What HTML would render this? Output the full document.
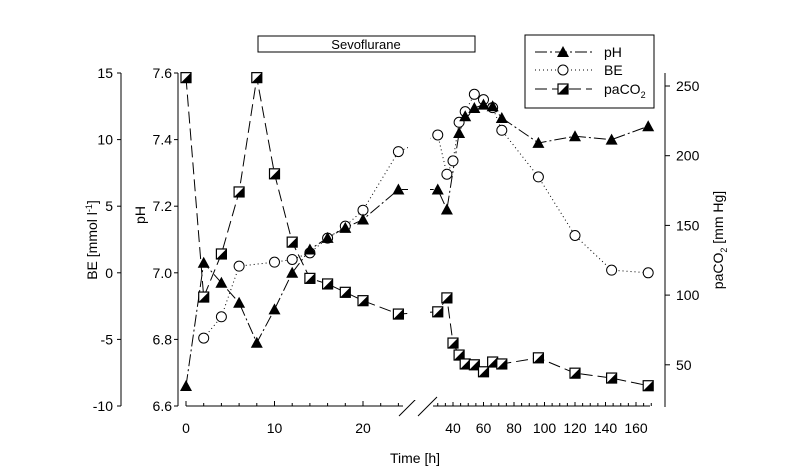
<!DOCTYPE html>
<html><head><meta charset="utf-8"><style>
html,body{margin:0;padding:0;background:#fff;}
svg{display:block;font-family:"Liberation Sans",Arial,sans-serif;}
</style></head><body>
<svg id="chart" width="800" height="470" viewBox="0 0 800 470" xmlns="http://www.w3.org/2000/svg">
<rect width="800" height="470" fill="#fff"/>
<g id="axes"></g><g id="series"></g>
</svg>
<script>
const phTimes = [0,2,4,6,8,10,12,14,16,18,20,24,30,36,44,48,54,60,66,72,96,120,144,168];
const phValues = [6.66,7.03,6.97,6.91,6.79,6.89,7.0,7.07,7.105,7.135,7.16,7.25,7.25,7.19,7.42,7.47,7.495,7.505,7.50,7.465,7.39,7.41,7.40,7.44];
const beTimes = [2,4,6,10,12,14,16,18,20,24,30,36,40,44,48,54,60,66,72,96,120,144,168];
const beValues = [-4.9,-3.3,0.5,0.8,1.0,1.5,2.6,3.5,4.7,9.1,10.35,7.4,8.4,11.3,12.1,13.4,13.0,12.4,10.7,7.2,2.8,0.2,0.0];
const co2Times = [0,2,4,6,8,10,12,14,16,18,20,24,30,36,40,44,48,54,60,66,72,96,120,144,168];
const co2Values = [256,98.6,129.5,174,256,187,138,112,108,102,96,86.4,88,98,65.6,57,50.6,50,45,52,50.6,55,44,40.5,35];
const xTicksLeft = [0,10,20];
const xTicksRight = [40,60,80,100,120,140,160];
const phTicks = [6.6,6.8,7.0,7.2,7.4,7.6];
const beTicks = [-10,-5,0,5,10,15];
const co2Ticks = [50,100,150,200,250];

const NS="http://www.w3.org/2000/svg";
function X(t){return t<=27 ? 186+t*8.85 : 453+(t-40)*1.525;}
function Yph(v){return 406-(v-6.6)*333;}
function Ybe(v){return 406-(v+10)*13.32;}
function Yco2(v){return 86+(250-v)*1.394;}
function mk(tag,attrs,parent){const e=document.createElementNS(NS,tag);for(const k in attrs)e.setAttribute(k,attrs[k]);parent.appendChild(e);return e;}
const axes=document.getElementById('axes'), ser=document.getElementById('series');
const ln={stroke:'#000','stroke-width':1,fill:'none'};

// x axis
let e=mk('line',Object.assign({x1:186,y1:406,x2:403,y2:406},ln),axes);


e=mk('line',Object.assign({x1:433,y1:406,x2:650,y2:406},ln),axes);


for(let t=0;t<=24;t+=2){mk('line',Object.assign({x1:X(t),y1:406,x2:X(t),y2:t%10===0?401:403},ln),axes);}
for(let t=30;t<=170;t+=5){mk('line',Object.assign({x1:X(t),y1:406,x2:X(t),y2:t%20===0?402:403},ln),axes);}
[...xTicksLeft,...xTicksRight].forEach(t=>{const tx=mk('text',{x:X(t),y:433,'text-anchor':'middle','font-size':14},axes);tx.textContent=t;

});
mk('line',Object.assign({x1:399,y1:416,x2:418,y2:397},ln),axes);
mk('line',Object.assign({x1:418,y1:416,x2:437,y2:397},ln),axes);
e=mk('text',{x:415,y:463,'text-anchor':'middle','font-size':14},axes);e.textContent='Time [h]';



// BE axis
e=mk('line',Object.assign({x1:121,y1:73,x2:121,y2:406},ln),axes);


beTicks.forEach(v=>{mk('line',Object.assign({x1:117,y1:Ybe(v),x2:121,y2:Ybe(v)},ln),axes);
const tx=mk('text',{x:113,y:Ybe(v)+5,'text-anchor':'end','font-size':14},axes);tx.textContent=v;

});
e=mk('text',{x:0,y:0,'text-anchor':'middle','font-size':14,transform:'translate(97,240) rotate(-90)'},axes);
e.innerHTML='BE [mmol l<tspan dy="-5" font-size="9">-1</tspan><tspan dy="5">]</tspan>';



// pH axis
e=mk('line',Object.assign({x1:178,y1:73,x2:178,y2:406},ln),axes);


phTicks.forEach(v=>{mk('line',Object.assign({x1:174,y1:Yph(v),x2:178,y2:Yph(v)},ln),axes);
const tx=mk('text',{x:172,y:Yph(v)+5,'text-anchor':'end','font-size':14},axes);tx.textContent=v.toFixed(1);

});
e=mk('text',{x:0,y:0,'text-anchor':'middle','font-size':14,transform:'translate(145,215) rotate(-90)'},axes);e.textContent='pH';



// paCO2 axis
e=mk('line',Object.assign({x1:665,y1:73,x2:665,y2:407},ln),axes);


co2Ticks.forEach(v=>{mk('line',Object.assign({x1:665,y1:Yco2(v),x2:670,y2:Yco2(v)},ln),axes);
const tx=mk('text',{x:676,y:Yco2(v)+5,'font-size':14},axes);tx.textContent=v;

});
e=mk('text',{x:0,y:0,'text-anchor':'middle','font-size':14,transform:'translate(723,240) rotate(-90)'},axes);
e.innerHTML='paCO<tspan dy="4" font-size="9">2</tspan><tspan dy="-4"> [mm Hg]</tspan>';



// Sevoflurane bar
e=mk('rect',{x:258,y:36,width:217,height:16,fill:'#fff',stroke:'#000','stroke-width':1},axes);


e=mk('text',{x:366,y:49,'text-anchor':'middle','font-size':13},axes);e.textContent='Sevoflurane';



function tri(x,y,g){const p=mk('path',{d:`M${x} ${y-6}L${x+6} ${y+5}L${x-6} ${y+5}Z`,fill:'#000'},g);return p;}
function circ(x,y,g){return mk('circle',{cx:x,cy:y,r:5,fill:'#fff',stroke:'#000','stroke-width':1},g);}
function sq(x,y,g){const gg=mk('g',{},g);mk('rect',{x:x-5,y:y-5,width:10,height:10,fill:'#fff',stroke:'#000','stroke-width':1.2},gg);
mk('path',{d:`M${x+5} ${y-5}L${x+5} ${y+5}L${x-5} ${y+5}Z`,fill:'#000'},gg);return gg;}

function series(times,vals,Y,dash,marker,name){
  const g=mk('g',{},ser);
  
  
  const pts=times.map((t,i)=>[X(t),Y(vals[i])]);
  const l=mk('polyline',{points:pts.map(p=>p.join(',')).join(' '),fill:'none',stroke:'#000','stroke-width':1,'stroke-dasharray':dash},g);
  
  
  return {g,pts,marker,name};
}
const S=[series(co2Times,co2Values,Yco2,'12,5',sq,'paco2'),series(beTimes,beValues,Ybe,'1,3',circ,'be'),series(phTimes,phValues,Yph,'12,3,2,3',tri,'ph')];
// break gap
mk('rect',{x:408,y:60,width:22,height:340,fill:'#fff'},ser);
S.forEach(s=>s.pts.forEach(p=>{const m=s.marker(p[0],p[1],ser);

}));

// legend
const lg=mk('g',{},ser);


mk('rect',{x:525,y:35,width:129,height:73,fill:'#fff',stroke:'#000','stroke-width':1},lg);
const items=[['pH','12,3,2,3',tri,52],['BE','1,3',circ,70],['paCO2','12,5',sq,89]];
items.forEach(it=>{const gi=mk('g',{},lg);


mk('line',{x1:535,y1:it[3],x2:592,y2:it[3],stroke:'#000','stroke-width':1,'stroke-dasharray':it[1]},gi);
it[2](563,it[3],gi);
const tx=mk('text',{x:604,y:it[3]+5,'font-size':14},gi);
if(it[0]==='paCO2'){tx.innerHTML='paCO<tspan dy="4" font-size="9">2</tspan>';}else tx.textContent=it[0];});
</script>
</body></html>
